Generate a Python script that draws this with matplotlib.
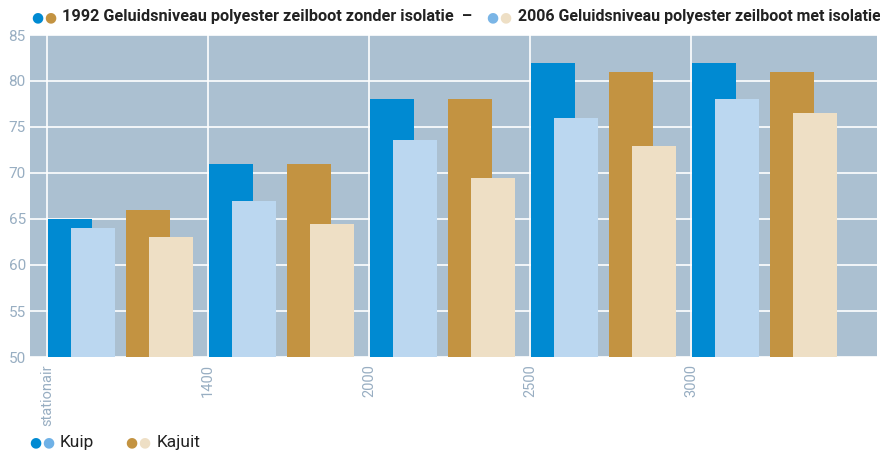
import matplotlib
matplotlib.use("Agg")
import matplotlib.pyplot as plt
import matplotlib.transforms as mtransforms
import numpy as np

plt.rcParams['font.family'] = ['Roboto', 'DejaVu Sans']

# data
categories = ['stationair', '1400', '2000', '2500', '3000']
kuip_1992 = [65, 71, 78, 82, 82]
kuip_2006 = [64, 67, 73.6, 76, 78]
kajuit_1992 = [66, 71, 78, 81, 81]
kajuit_2006 = [63, 64.5, 69.5, 72.9, 76.5]

c_kuip92 = '#008ad2'
c_kuip06 = '#bbd7f0'
c_kaj92 = '#c39341'
c_kaj06 = '#eedfc5'
c_bg = '#abc0d1'
c_tick = '#98aec2'

fig = plt.figure(figsize=(8.8, 4.51), dpi=100)
ax = fig.add_axes([30/880, 1-357/451, 847/880, 322/451])
ax.set_facecolor(c_bg)

x = np.arange(len(categories))
w = 0.275
bottom = 50
ax.bar(x + 0.005, np.array(kuip_1992) - bottom, w, bottom=bottom, align='edge', color=c_kuip92, zorder=2)
ax.bar(x + 0.148, np.array(kuip_2006) - bottom, w, bottom=bottom, align='edge', color=c_kuip06, zorder=3)
ax.bar(x + 0.49, np.array(kajuit_1992) - bottom, w, bottom=bottom, align='edge', color=c_kaj92, zorder=2)
ax.bar(x + 0.633, np.array(kajuit_2006) - bottom, w, bottom=bottom, align='edge', color=c_kaj06, zorder=3)

ax.set_ylim(50, 85)
ax.set_xlim(-0.106, 5.155)
ax.set_yticks(range(50, 86, 5))
ax.set_xticks(x)
ax.set_xticklabels(categories, rotation=90, va='top')
shift = mtransforms.ScaledTranslation(-4/100, 0, fig.dpi_scale_trans)
for lbl in ax.get_xticklabels():
    lbl.set_transform(lbl.get_transform() + shift)
ax.grid(True, color='white', linewidth=1.2, zorder=1)
ax.set_axisbelow(True)
for s in ax.spines.values():
    s.set_visible(False)
ax.tick_params(length=0, colors=c_tick, labelsize=11, pad=3)
ax.tick_params(axis='x', pad=5, labelsize=10.5)

renderer = fig.canvas.get_renderer()


def fit_text(xp, yp, s, width_px, size, **kw):
    t = fig.text(xp/880, 1-yp/451, s, fontsize=size, va='center', ha='left',
                 color='#222222', **kw)
    wd = t.get_window_extent(renderer).width
    t.set_fontsize(size * width_px / wd)
    return t


def dots(xp, yp, cols, size=10):
    for i, c in enumerate(cols):
        fig.text((xp + i*13)/880, 1-yp/451, '●', color=c, fontsize=size,
                 ha='center', va='center', family='DejaVu Sans')


# legend top
dots(37, 17, [c_kuip92, c_kaj92])
fit_text(62, 17, '1992 Geluidsniveau polyester zeilboot zonder isolatie  –', 410, 12,
         fontweight='bold')
dots(492, 17, ['#7ab5e6', c_kaj06])
fit_text(518, 17, '2006 Geluidsniveau polyester zeilboot met isolatie', 362, 12,
         fontweight='bold')

# legend bottom
dots(35, 442, [c_kuip92, '#6fb1e6'])
fig.text(60/880, 1-442/451, 'Kuip', fontsize=12.5, color='#222222', va='center', ha='left')
dots(131, 442, [c_kaj92, c_kaj06])
fig.text(157/880, 1-442/451, 'Kajuit', fontsize=12.5, color='#222222', va='center', ha='left')

fig.savefig('out.png', dpi=100)
